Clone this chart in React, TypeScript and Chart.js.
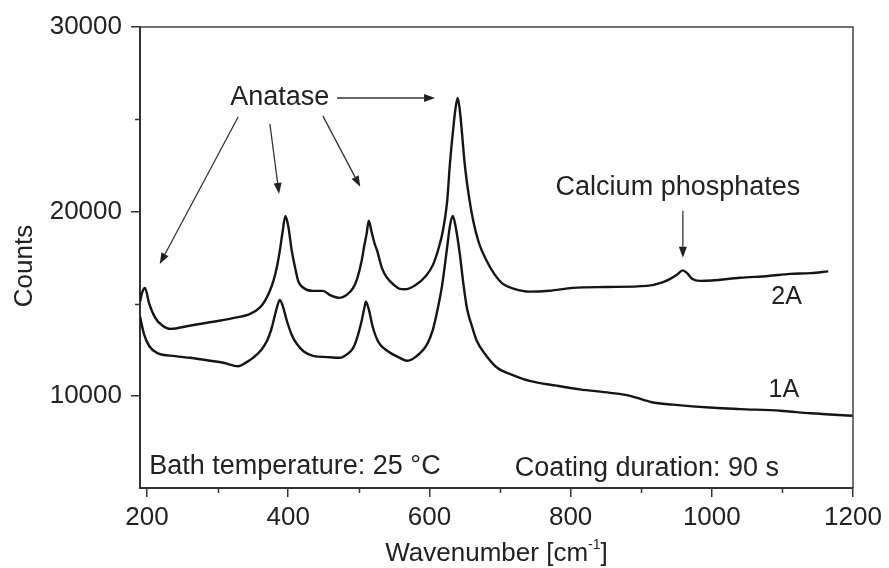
import React, { useEffect, useRef } from "react";
import { Chart, registerables } from "chart.js";

Chart.register(...registerables);

// ---- data ----
const wave2A = [190, 193, 197, 203, 212, 222, 233, 260, 285, 320, 346, 360, 367, 374, 379, 384, 388, 392, 396, 400, 405, 410, 414, 420, 435, 449, 460, 473, 482, 492, 498, 504, 508, 511, 514, 518, 522, 526, 533, 540, 550, 558, 565, 580, 595, 605, 613, 619, 625, 629, 634, 637, 640, 643, 646, 650, 656, 662, 670, 681, 692, 704, 720, 742, 770, 803, 850, 908, 930, 941, 950, 959, 965, 972, 983, 1000, 1040, 1080, 1111, 1140, 1165];
const counts2A = [15100, 15600, 15850, 15000, 14200, 13800, 13630, 13800, 13960, 14200, 14440, 14800, 15150, 15700, 16230, 17000, 17860, 18900, 19750, 19200, 17860, 16900, 16230, 15900, 15690, 15690, 15450, 15310, 15450, 15850, 16400, 17320, 18200, 18780, 19490, 18900, 18300, 17860, 16900, 16400, 16000, 15800, 15780, 16000, 16500, 17100, 18000, 18940, 20500, 22570, 24600, 25600, 26150, 25500, 24300, 22570, 20800, 19490, 18300, 17320, 16600, 16070, 15800, 15650, 15700, 15850, 15900, 15960, 16150, 16340, 16550, 16800, 16650, 16350, 16230, 16250, 16400, 16500, 16610, 16650, 16750];

const wave1A = [190, 196, 203, 214, 240, 261, 290, 308, 329, 340, 350, 362, 370, 376, 380, 384, 388, 392, 398, 405, 412, 422, 435, 455, 473, 485, 492, 498, 504, 508, 510, 514, 520, 528, 540, 558, 568, 580, 597, 605, 612, 618, 625, 629, 633, 637, 643, 648, 653, 660, 667, 680, 696, 720, 742, 780, 813, 856, 884, 915, 945, 1002, 1040, 1097, 1140, 1200];
const counts1A = [14300, 13300, 12700, 12330, 12150, 12060, 11900, 11790, 11600, 11800, 12060, 12500, 12980, 13600, 14200, 14800, 15200, 14900, 14070, 13300, 12820, 12400, 12170, 12100, 12060, 12300, 12600, 13200, 14070, 14800, 15100, 14700, 13690, 12900, 12440, 12060, 11900, 12100, 12820, 13600, 14770, 16000, 18020, 19200, 19750, 19200, 17700, 16100, 14770, 13800, 12980, 12200, 11520, 11100, 10810, 10550, 10350, 10160, 10000, 9650, 9520, 9350, 9280, 9190, 9050, 8920];

const xMajorTicks = [200, 400, 600, 800, 1000, 1200];
const xMinorTicks = [300, 500, 700, 900, 1100];
const yMajorTicks = [10000, 20000, 30000];
const yMinorTicks = [15000, 25000];

const xTitle = "Wavenumber [cm";
const xTitleSup = "-1";
const yTitle = "Counts";

// annotations in data coordinates
const noteTexts = ["Anatase", "Calcium phosphates", "2A", "1A", "Bath temperature: 25 °C", "Coating duration: 90 s"];
const noteX = [388, 952, 1106, 1102, 203, 721];
const noteY = [26150, 21270, 15370, 10330, 6150, 6040];
const noteAlign = ["center", "center", "center", "center", "left", "left"];
const noteSize = [27, 27, 25, 25, 27, 27];

const arrowFromX = [329, 374, 449, 469, 959];
const arrowFromY = [25120, 24740, 25180, 26150, 20030];
const arrowToX = [218, 387, 502, 608, 959];
const arrowToY = [17150, 20950, 21330, 26150, 17480];

const FONT = "'Liberation Sans', Arial, Helvetica, sans-serif";
const INK = "#222";

const decorPlugin = {
  id: "decor",
  afterDraw(chart: any) {
    const { ctx, chartArea, scales } = chart;
    const xs = scales.x;
    const ys = scales.y;
    ctx.save();
    // frame top & right
    ctx.strokeStyle = "#444";
    ctx.lineWidth = 1.5;
    ctx.beginPath();
    ctx.moveTo(chartArea.left, chartArea.top);
    ctx.lineTo(chartArea.right, chartArea.top);
    ctx.lineTo(chartArea.right, chartArea.bottom);
    ctx.stroke();
    // minor ticks
    ctx.strokeStyle = "#333";
    ctx.lineWidth = 1.5;
    ctx.beginPath();
    xMinorTicks.forEach((v) => {
      const px = Math.round(xs.getPixelForValue(v)) + 0.5;
      ctx.moveTo(px, chartArea.bottom);
      ctx.lineTo(px, chartArea.bottom + 5);
    });
    yMinorTicks.forEach((v) => {
      const py = Math.round(ys.getPixelForValue(v)) + 0.5;
      ctx.moveTo(chartArea.left, py);
      ctx.lineTo(chartArea.left - 5, py);
    });
    ctx.stroke();
    // texts
    ctx.fillStyle = INK;
    ctx.textBaseline = "middle";
    noteTexts.forEach((t, i) => {
      ctx.font = `${noteSize[i]}px ${FONT}`;
      ctx.textAlign = noteAlign[i] as CanvasTextAlign;
      ctx.fillText(t, xs.getPixelForValue(noteX[i]), ys.getPixelForValue(noteY[i]));
    });
    // arrows
    ctx.strokeStyle = "#333";
    ctx.fillStyle = "#222";
    ctx.lineWidth = 1.3;
    arrowFromX.forEach((_, i) => {
      const x1 = xs.getPixelForValue(arrowFromX[i]);
      const y1 = ys.getPixelForValue(arrowFromY[i]);
      const x2 = xs.getPixelForValue(arrowToX[i]);
      const y2 = ys.getPixelForValue(arrowToY[i]);
      const ang = Math.atan2(y2 - y1, x2 - x1);
      const hl = 11;
      const hw = 4;
      const bx = x2 - hl * Math.cos(ang);
      const by = y2 - hl * Math.sin(ang);
      ctx.beginPath();
      ctx.moveTo(x1, y1);
      ctx.lineTo(bx, by);
      ctx.stroke();
      ctx.beginPath();
      ctx.moveTo(x2, y2);
      ctx.lineTo(bx + hw * Math.sin(ang), by - hw * Math.cos(ang));
      ctx.lineTo(bx - hw * Math.sin(ang), by + hw * Math.cos(ang));
      ctx.closePath();
      ctx.fill();
    });
    // y-axis title
    ctx.fillStyle = INK;
    ctx.font = `26px ${FONT}`;
    ctx.save();
    ctx.translate(25, 266);
    ctx.rotate(-Math.PI / 2);
    ctx.textAlign = "center";
    ctx.textBaseline = "middle";
    ctx.fillText(yTitle, 0, 0);
    ctx.restore();
    // x-axis title with superscript
    ctx.textBaseline = "alphabetic";
    ctx.textAlign = "left";
    ctx.font = `26px ${FONT}`;
    const w1 = ctx.measureText(xTitle).width;
    ctx.font = `14px ${FONT}`;
    const w2 = ctx.measureText(xTitleSup).width;
    ctx.font = `26px ${FONT}`;
    const w3 = ctx.measureText("]").width;
    const total = w1 + w2 + w3;
    const cx = (chartArea.left + chartArea.right) / 2;
    const base = 561;
    let sx = cx - total / 2;
    ctx.fillText(xTitle, sx, base);
    sx += w1;
    ctx.font = `14px ${FONT}`;
    ctx.fillText(xTitleSup, sx, base - 12);
    sx += w2;
    ctx.font = `26px ${FONT}`;
    ctx.fillText("]", sx, base);
    ctx.restore();
  },
};

export default function App() {
  const ref = useRef<HTMLCanvasElement | null>(null);
  useEffect(() => {
    document.body.style.margin = "0";
    const canvas = ref.current;
    if (!canvas) return;
    const chart = new Chart(canvas, {
      type: "line",
      data: {
        datasets: [
          {
            label: "2A",
            data: wave2A.map((x, i) => ({ x, y: counts2A[i] })),
            borderColor: "#151515",
            borderWidth: 2.4,
            pointRadius: 0,
            fill: false,
            cubicInterpolationMode: "monotone",
          },
          {
            label: "1A",
            data: wave1A.map((x, i) => ({ x, y: counts1A[i] })),
            borderColor: "#151515",
            borderWidth: 2.4,
            pointRadius: 0,
            fill: false,
            cubicInterpolationMode: "monotone",
          },
        ],
      },
      options: {
        responsive: false,
        animation: false,
        layout: { padding: { top: 27, right: 36, left: 0, bottom: 0 } },
        plugins: { legend: { display: false }, tooltip: { enabled: false }, title: { display: false } },
        scales: {
          x: {
            type: "linear",
            min: 190,
            max: 1200,
            afterBuildTicks: (s: any) => {
              s.ticks = xMajorTicks.map((v) => ({ value: v }));
            },
            afterFit: (s: any) => {
              s.height = 80;
            },
            grid: { drawOnChartArea: false, drawTicks: true, tickLength: 9, color: "#333", lineWidth: 1.5 },
            border: { display: true, color: "#333", width: 2 },
            ticks: {
              color: INK,
              font: { family: FONT, size: 26 },
              padding: 5,
              maxRotation: 0,
              autoSkip: false,
              callback: (v: any) => String(v),
            },
            title: { display: false },
          },
          y: {
            type: "linear",
            min: 5000,
            max: 30000,
            afterBuildTicks: (s: any) => {
              s.ticks = yMajorTicks.map((v) => ({ value: v }));
            },
            afterFit: (s: any) => {
              s.width = 140;
            },
            grid: { drawOnChartArea: false, drawTicks: true, tickLength: 9, color: "#333", lineWidth: 1.5 },
            border: { display: true, color: "#333", width: 2 },
            ticks: {
              color: INK,
              font: { family: FONT, size: 26 },
              padding: 9,
              autoSkip: false,
              callback: (v: any) => String(v),
            },
            title: { display: false },
          },
        },
      },
      plugins: [decorPlugin],
    } as any);
    return () => chart.destroy();
  }, []);
  return (
    <div style={{ position: "absolute", left: 0, top: 0, width: 889, height: 568, background: "#fff" }}>
      <canvas ref={ref} width={889} height={568} style={{ display: "block" }} />
    </div>
  );
}
